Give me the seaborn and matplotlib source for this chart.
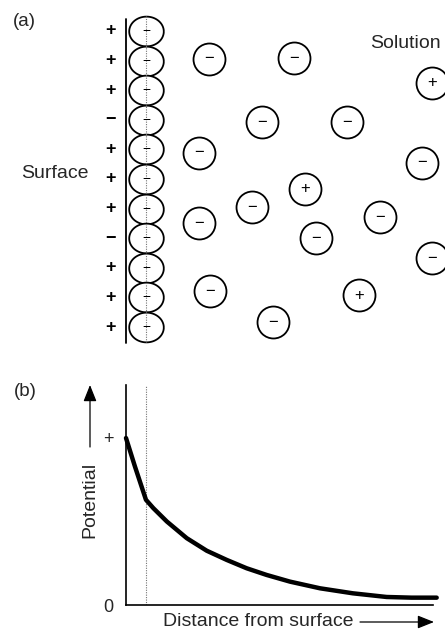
import numpy as np
import pandas as pd
import matplotlib
matplotlib.use("Agg")
import matplotlib.pyplot as plt
from matplotlib.path import Path
import seaborn as sns

sns.set_theme(style="white")
plt.rcParams["font.family"] = ["Liberation Sans", "DejaVu Sans"]

# ---- (a) charges at the surface and ions in solution ----
# positions: distance from the surface (x) and position along it (y)
surface_y = [31, 60.6, 90.2, 119.8, 149.4, 179, 208.6, 238.2, 267.8, 297.4, 327]
surface_charge = ["+", "+", "+", "\u2212", "+", "+", "+", "\u2212", "+", "+", "+"]
bound_x = [20] * 11          # adsorbed counter-ion layer
bound_charge = ["\u2212"] * 11

ion_x = [83, 168, 306, 136, 221, 73, 296, 179, 126, 73, 254, 190, 306, 84, 233, 147]
ion_y = [59, 58, 83, 122, 122, 153, 163, 189, 207, 223, 217, 238, 258, 291, 295, 322]
ion_charge = ["\u2212", "\u2212", "+", "\u2212", "\u2212", "\u2212", "\u2212", "+",
              "\u2212", "\u2212", "\u2212", "\u2212", "\u2212", "\u2212", "+", "\u2212"]

# ---- (b) potential profile ----
distance = [0.0, 0.29, 0.65, 0.89, 1.33, 1.98, 2.63, 3.28, 3.93, 4.58,
            5.34, 6.32, 7.39, 8.49, 9.3, 10.12]
potential = [1.0, 0.83, 0.63, 0.58, 0.50, 0.40, 0.325, 0.27, 0.22, 0.18,
             0.14, 0.10, 0.07, 0.048, 0.044, 0.044]
stern_plane = 0.65
potential_ticks = [0, 1]
potential_ticklabels = ["0", "+"]

W, H = 445, 635
fig = plt.figure(figsize=(W / 100, H / 100), dpi=100)
fig.patch.set_facecolor("white")

# panel (a): unit = one pixel, surface at x = 0
top_h = 348
ax_a = fig.add_axes([0, 1 - top_h / H, 1, top_h / H])
ax_a.set_xlim(-126, W - 126)
ax_a.set_ylim(top_h, 0)
ax_a.axis("off")

# surface line and the plane through the adsorbed ions
ax_a.plot([0, 0], [19, 343], color="black", lw=1.3, zorder=1)
ax_a.plot([20, 20], [16, 342], color="0.45", lw=0.8,
          linestyle=(0, (1, 1.2)), zorder=4)

# elliptic marker for the closely packed adsorbed layer
t = np.linspace(0, 2 * np.pi, 80)
ellipse = Path(np.column_stack([np.cos(t), 0.86 * np.sin(t)]))

bound_df = pd.DataFrame({"x": bound_x, "y": surface_y})
sns.scatterplot(data=bound_df, x="x", y="y", ax=ax_a, marker=ellipse, s=620,
                color="white", edgecolor="black", linewidth=1.3, zorder=3,
                legend=False)

ion_df = pd.DataFrame({"x": ion_x, "y": ion_y, "charge": ion_charge})
sns.scatterplot(data=ion_df, x="x", y="y", ax=ax_a, marker="o", s=530,
                color="white", edgecolor="black", linewidth=1.3, zorder=3,
                legend=False)
ax_a.set_xlabel("")
ax_a.set_ylabel("")

for y, c in zip(surface_y, surface_charge):
    ax_a.text(-15, y, c, ha="center", va="center", fontsize=13,
              fontweight="bold", color="black")
for x, y, c in zip(bound_x, surface_y, bound_charge):
    ax_a.text(x, y, c, ha="center", va="center", fontsize=10,
              color="black", zorder=5)
for x, y, c in zip(ion_x, ion_y, ion_charge):
    ax_a.text(x, y, c, ha="center", va="center", fontsize=12,
              color="black", zorder=5)

fig.text(24 / W, 1 - 21 / H, "(a)", ha="center", va="center", fontsize=13.5)
fig.text(405 / W, 1 - 43 / H, "Solution", ha="center", va="center", fontsize=14)
fig.text(55 / W, 1 - 173 / H, "Surface", ha="center", va="center", fontsize=14)

# panel (b)
x0, x1, y0, y1 = 126, 433, 605, 385
ax_b = fig.add_axes([x0 / W, 1 - y0 / H, (x1 - x0) / W, (y0 - y1) / H])
sns.lineplot(x=distance, y=potential, ax=ax_b, color="black", lw=3.2,
             clip_on=False, zorder=3)
ax_b.axvline(stern_plane, color="0.45", lw=0.8, linestyle=(0, (1, 1.2)), zorder=2)
ax_b.set_xlim(0, 10)
ax_b.set_ylim(0, (y0 - y1) / (y0 - 438))
ax_b.set_facecolor("none")
sns.despine(ax=ax_b)
for side in ("left", "bottom"):
    ax_b.spines[side].set_color("black")
    ax_b.spines[side].set_linewidth(1.2)
ax_b.set_xticks([])
ax_b.set_yticks(potential_ticks)
ax_b.set_yticklabels(potential_ticklabels)
ax_b.tick_params(axis="y", length=0, pad=9, labelsize=13)

fig.text(25 / W, 1 - 391 / H, "(b)", ha="center", va="center", fontsize=13.5)
fig.text(90 / W, 1 - 500 / H, "Potential", ha="center", va="center",
         fontsize=14, rotation=90)
fig.text(258 / W, 1 - 622 / H, "Distance from surface", ha="center",
         va="center", fontsize=14)

arrow = dict(arrowstyle="-|>,head_length=1.0,head_width=0.4", color="black",
             lw=0.9, shrinkA=0, shrinkB=0, mutation_scale=10)
fig.add_artist(matplotlib.patches.FancyArrowPatch(
    (90 / W, 1 - 447 / H), (90 / W, 1 - 385 / H),
    transform=fig.transFigure, **arrow))
fig.add_artist(matplotlib.patches.FancyArrowPatch(
    (360 / W, 1 - 622 / H), (434 / W, 1 - 622 / H),
    transform=fig.transFigure, **arrow))

fig.savefig("out.png", dpi=100, facecolor="white")
